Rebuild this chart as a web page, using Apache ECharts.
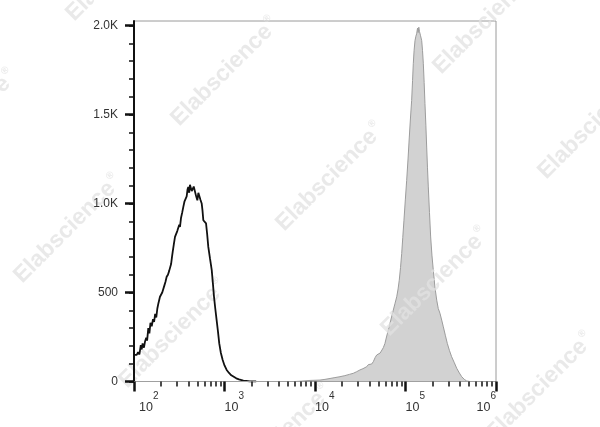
<!DOCTYPE html>
<html><head><meta charset="utf-8">
<script src="https://cdn.jsdelivr.net/npm/echarts@6/dist/echarts.min.js"></script>
<style>html,body{margin:0;padding:0;background:#fff}#c{width:600px;height:427px}</style>
</head><body><div id="c"></div>
<script>
// x values are log10 of fluorescence intensity (decades), y values are cell counts
const xMajorTicks = [2, 3, 4, 5, 6];
const yMajorTicks = [0, 500, 1000, 1500, 2000];
const yMinorTicks = [0,100,200,300,400,500,600,700,800,900,1000,1100,1200,1300,1400,1500,1600,1700,1800,1900,2000];

const unstainedX = [2.000,2.015,2.030,2.045,2.060,2.075,2.085,2.095,2.110,2.122,2.135,2.145,2.158,2.170,2.182,2.196,2.210,2.222,2.234,2.246,2.258,2.270,2.287,2.300,2.312,2.324,2.336,2.348,2.361,2.375,2.388,2.398,2.410,2.420,2.428,2.440,2.453,2.465,2.478,2.490,2.500,2.508,2.520,2.533,2.545,2.557,2.570,2.582,2.592,2.600,2.610,2.618,2.627,2.638,2.649,2.660,2.674,2.687,2.700,2.711,2.722,2.735,2.748,2.757,2.766,2.780,2.796,2.808,2.821,2.840,2.859,2.872,2.884,2.898,2.913,2.928,2.942,2.960,2.980,3.000,3.024,3.050,3.075,3.097,3.130,3.160,3.208,3.240,3.280,3.350];
const unstainedY = [150,158,150,165,152,205,180,214,190,225,245,230,300,270,330,310,350,335,380,360,410,440,476,470,500,504,540,560,588,600,620,616,660,700,730,770,812,820,845,850,880,868,920,950,981,1010,1020,1040,1080,1093,1060,1105,1102,1070,1060,1095,1093,1040,1018,1060,1065,1020,1000,960,906,900,888,830,756,690,626,550,476,410,345,280,214,160,121,90,65,48,35,27,18,12,5,3,0,0];

const stainedX = [3.78,3.85,3.945,4.00,4.055,4.11,4.166,4.22,4.276,4.33,4.38,4.423,4.46,4.497,4.53,4.571,4.59,4.608,4.625,4.644,4.665,4.682,4.70,4.72,4.737,4.755,4.773,4.79,4.81,4.835,4.865,4.885,4.903,4.918,4.931,4.945,4.958,4.97,4.983,4.998,5.013,5.028,5.042,5.055,5.068,5.078,5.086,5.095,5.105,5.115,5.123,5.133,5.140,5.147,5.155,5.165,5.179,5.188,5.197,5.206,5.215,5.225,5.234,5.243,5.252,5.265,5.278,5.292,5.307,5.325,5.345,5.362,5.381,5.40,5.418,5.44,5.462,5.485,5.51,5.54,5.566,5.595,5.621,5.65,5.676,5.71];
const stainedY = [0,2,6,7,8,12,17,22,27,33,40,46,55,65,72,83,95,102,98,111,135,149,155,160,167,190,214,250,289,340,401,440,476,520,569,640,719,810,906,1020,1130,1250,1373,1480,1579,1690,1785,1860,1915,1940,1953,1985,1960,1990,1965,1945,1915,1860,1785,1680,1561,1440,1317,1200,1093,950,812,710,626,530,457,410,383,345,307,260,214,175,139,105,74,48,27,12,3,0];

const watermarkText = 'Elabscience';
const FONT = 'Liberation Sans, Arial, sans-serif';

const xMinorTicks = [];
for (let d = 2; d < 6; d++) for (let k = 2; k <= 9; k++) xMinorTicks.push(d + Math.log10(k));

const zip = (xs, ys) => xs.map((x, i) => [x, ys[i]]);

// watermark lattice
const wm = [];
const base = [225, 72], u = [105, 105], v = [157, -157];
for (let i = -2; i <= 4; i++) for (let j = -2; j <= 2; j++) {
  const cx = base[0] + i * u[0] + j * v[0], cy = base[1] + i * u[1] + j * v[1];
  if (cx > -120 && cx < 720 && cy > -120 && cy < 550) wm.push([cx, cy]);
}

const chart = echarts.init(document.getElementById('c'));
chart.setOption({
  animation: false,
  backgroundColor: '#fff',
  textStyle: { fontFamily: FONT },
  grid: { left: 134, right: 104, top: 21, bottom: 45.5, show: true, borderColor: '#9a9a9a', borderWidth: 1 },
  xAxis: [{
    type: 'value', min: 2, max: 6, position: 'bottom', offset: 0, z: 10,
    axisLine: { show: true, onZero: false, lineStyle: { color: '#a0a0a0', width: 1 } },
    axisTick: { show: true, customValues: xMajorTicks, length: 10, lineStyle: { color: '#111', width: 2.5 } },
    axisLabel: {
      customValues: xMajorTicks, margin: 10, align: 'left', alignMaxLabel: 'right', color: '#333',
      formatter: val => (val === 2 ? '{p|10}' : '{b|10}') + '{s|' + val + '}',
      rich: {
        b: { fontSize: 12.5, color: '#333', fontFamily: FONT },
        p: { fontSize: 12.5, color: '#333', fontFamily: FONT, padding: [0, 0, 0, 5] },
        s: { fontSize: 10, color: '#333', fontFamily: FONT, padding: [0, 0, 22, 0] }
      }
    },
    splitLine: { show: false }
  }, {
    type: 'value', min: 2, max: 6, position: 'bottom', offset: 0, z: 10,
    axisLine: { show: false },
    axisTick: { show: true, customValues: xMinorTicks, length: 5, lineStyle: { color: '#111', width: 1.5 } },
    axisLabel: { show: false },
    splitLine: { show: false }
  }],
  yAxis: [{
    type: 'value', min: 0, max: 2025, position: 'left', offset: 0, z: 10,
    axisLine: { show: true, onZero: false, lineStyle: { color: '#111', width: 2 } },
    axisTick: { show: true, customValues: yMajorTicks, length: 9, lineStyle: { color: '#111', width: 2.5 } },
    axisLabel: {
      customValues: yMajorTicks, margin: 16, fontSize: 12, color: '#333',
      formatter: val => val < 1000 ? String(val) : (val / 1000).toFixed(1) + 'K'
    },
    splitLine: { show: false }
  }, {
    type: 'value', min: 0, max: 2025, position: 'left', offset: 0, z: 10,
    axisLine: { show: false },
    axisTick: { show: true, customValues: yMinorTicks, length: 5, lineStyle: { color: '#111', width: 1.5 } },
    axisLabel: { show: false },
    splitLine: { show: false }
  }],
  series: [{
    name: 'Stained', type: 'line', xAxisIndex: 0, yAxisIndex: 0, z: 1,
    data: zip(stainedX, stainedY), showSymbol: false, symbol: 'none',
    lineStyle: { color: '#9c9c9c', width: 1 },
    areaStyle: { color: '#d2d2d2', opacity: 1 }
  }, {
    name: 'Unstained', type: 'line', xAxisIndex: 0, yAxisIndex: 0, z: 8,
    data: zip(unstainedX, unstainedY), showSymbol: false, symbol: 'none',
    lineStyle: { color: '#111', width: 1.8 }
  }],
  graphic: {
    elements: wm.map(p => ({
      type: 'text', x: p[0], y: p[1], rotation: Math.PI / 4, z: 5, silent: true,
      style: {
        text: watermarkText + '{r|®}',
        font: 'bold 23px ' + FONT,
        fill: 'rgba(226,226,226,0.75)',
        align: 'center', verticalAlign: 'middle',
        rich: { r: { fontSize: 10, fontWeight: 'bold', fill: 'rgba(226,226,226,0.75)', padding: [0, 0, 16, 2] } }
      }
    }))
  }
});
</script></body></html>
